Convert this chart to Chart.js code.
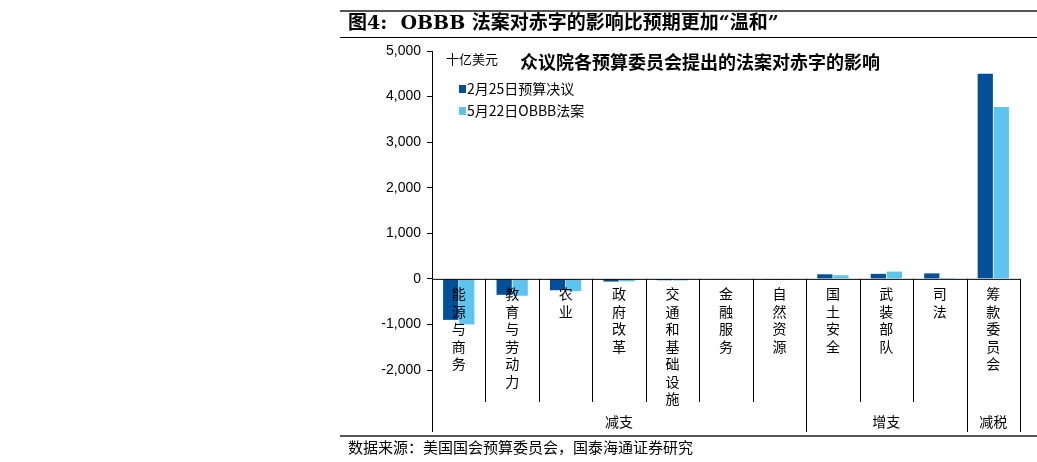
<!DOCTYPE html>
<html><head><meta charset="utf-8">
<script src="https://cdn.jsdelivr.net/npm/chart.js@4"></script>
<style>body{margin:0;background:#fff}#wrap{width:1037px;height:462px;position:relative}</style>
</head><body><div id="wrap"><canvas id="c"></canvas></div>
<script>
const categories = ['能源与商务','教育与劳动力','农业','政府改革','交通和基础设施','金融服务','自然资源','国土安全','武装部队','司法','筹款委员会'];
const groups = [['减支', 0, 7], ['增支', 7, 10], ['减税', 10, 11]];
const feb25 = [-900, -350, -250, -60, -30, -15, -20, 100, 110, 120, 4500];
const may22 = [-1000, -370, -270, -55, -35, -15, -25, 80, 160, 20, 3770];
const FONT = '"Noto Sans CJK SC", sans-serif';

const decor = {
  id: 'decor',
  afterDraw(chart) {
    const ctx = chart.ctx, a = chart.chartArea, x = chart.scales.x, y = chart.scales.y;
    const y0 = y.getPixelForValue(0);
    const w = (a.right - a.left) / categories.length;
    ctx.save();
    ctx.strokeStyle = '#000'; ctx.lineWidth = 1;
    // zero line
    ctx.beginPath(); ctx.moveTo(a.left, y0 + 0.5); ctx.lineTo(a.right, y0 + 0.5); ctx.stroke();
    // axis extension
    ctx.beginPath(); ctx.moveTo(a.left + 0.5, a.bottom); ctx.lineTo(a.left + 0.5, 432); ctx.stroke();
    // dividers
    for (let i = 1; i <= categories.length; i++) {
      const px = Math.round(a.left + i * w) + 0.5;
      const isGroup = groups.some(g => g[2] === i);
      ctx.beginPath(); ctx.moveTo(px, y0); ctx.lineTo(px, isGroup ? 432 : 402); ctx.stroke();
    }
    // category labels (vertical)
    ctx.fillStyle = '#000'; ctx.font = '14px ' + FONT; ctx.textAlign = 'center'; ctx.textBaseline = 'top';
    categories.forEach((c, i) => {
      const cx = x.getPixelForValue(i);
      [...c].forEach((ch, k) => ctx.fillText(ch, cx, 287 + k * 17.5));
    });
    groups.forEach(g => {
      const cx = a.left + (g[1] + g[2]) / 2 * w;
      ctx.fillText(g[0], cx, 415);
    });
    // titles
    ctx.textAlign = 'left'; ctx.textBaseline = 'middle';
    ctx.font = '13px ' + FONT; ctx.fillText('十亿美元', 446, 59);
    ctx.font = 'bold 18px ' + FONT; ctx.fillText('众议院各预算委员会提出的法案对赤字的影响', 520, 62);
    ctx.font = '14px ' + FONT;
    ctx.fillStyle = '#004f9a'; ctx.fillRect(459, 85, 7, 8);
    ctx.fillStyle = '#5bc4ef'; ctx.fillRect(459, 107, 7, 8);
    ctx.fillStyle = '#000';
    ctx.fillText('2月25日预算决议', 467, 89);
    ctx.fillText('5月22日OBBB法案', 467, 111);
    ctx.font = 'bold 19px "DejaVu Serif", ' + FONT; ctx.fillText('图4:  OBBB 法案对赤字的影响比预期更加“温和”', 348, 24);
    ctx.font = '15px ' + FONT; ctx.fillText('数据来源：美国国会预算委员会，国泰海通证券研究', 348, 447);
    ctx.fillStyle = '#555'; ctx.fillRect(340, 10, 697, 2);
    ctx.fillStyle = '#000'; ctx.fillRect(340, 37, 697, 1);
    ctx.fillStyle = '#555'; ctx.fillRect(340, 435, 697, 2);
    ctx.restore();
  }
};

new Chart(document.getElementById('c'), {
  type: 'bar',
  data: {
    labels: categories,
    datasets: [
      { label: '2月25日预算决议', data: feb25, backgroundColor: '#004f9a' },
      { label: '5月22日OBBB法案', data: may22, backgroundColor: '#5bc4ef' }
    ]
  },
  options: {
    responsive: true, maintainAspectRatio: false, animation: false,
    categoryPercentage: 0.6, barPercentage: 0.95,
    layout: { padding: { top: 51, bottom: 92, right: 17, left: 0 } },
    plugins: { legend: { display: false }, tooltip: { enabled: false } },
    scales: {
      x: { display: false },
      y: {
        min: -2000, max: 5000,
        afterFit(s) { s.width = 432; },
        ticks: { stepSize: 1000, color: '#000', padding: 6, font: { size: 14, family: 'Arial, "Liberation Sans", sans-serif' },
          callback: v => v.toLocaleString('en-US') },
        grid: { drawOnChartArea: false, tickLength: 5, color: '#000' },
        border: { color: '#000' }
      }
    }
  },
  plugins: [decor]
});
</script></body></html>
